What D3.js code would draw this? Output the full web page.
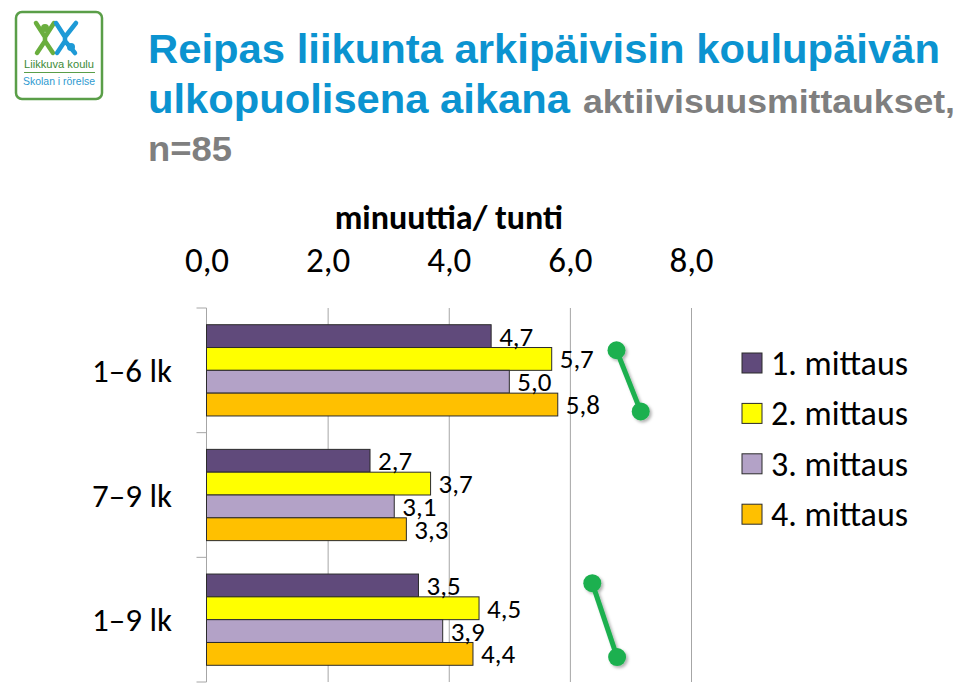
<!DOCTYPE html>
<html>
<head>
<meta charset="utf-8">
<script src="https://cdn.jsdelivr.net/npm/d3@7"></script>
<style>
  html, body { margin: 0; padding: 0; background: #ffffff; }
  svg { display: block; }
</style>
</head>
<body>
<svg id="chart" width="959" height="685"></svg>
<script>
// ---------------- data ----------------
const categories = ["1–6 lk", "7–9 lk", "1–9 lk"];
const seriesNames = ["1. mittaus", "2. mittaus", "3. mittaus", "4. mittaus"];
const mittaus1 = [4.7, 2.7, 3.5];
const mittaus2 = [5.7, 3.7, 4.5];
const mittaus3 = [5.0, 3.1, 3.9];
const mittaus4 = [5.8, 3.3, 4.4];
const xTicks = [0, 2, 4, 6, 8];
const seriesColors = ["#604a7b", "#ffff00", "#b3a2c7", "#ffc000"];
const axisTitle = "minuuttia/ tunti";
const titleLine1 = "Reipas liikunta arkipäivisin koulupäivän";
const titleLine2Blue = "ulkopuolisena aikana";
const titleLine2Gray = "aktiivisuusmittaukset,";
const titleLine3 = "n=85";
// trend annotations (value position along x, fraction of band along y)
const trendCats = ["1–6 lk", "1–9 lk"];
const trendX1 = [6.77, 6.37];
const trendY1 = [0.28, 0.10];
const trendX2 = [7.17, 6.78];
const trendY2 = [0.95, 0.91];

const allSeries = [mittaus1, mittaus2, mittaus3, mittaus4];
const rows = [];
categories.forEach((c, ci) => {
  seriesNames.forEach((s, si) => rows.push({ cat: c, series: s, si, value: allSeries[si][ci] }));
});

const locale = d3.formatLocale({ decimal: ",", thousands: " ", grouping: [3], currency: ["", "€"] });
const fmt = locale.format(".1f");

const svg = d3.select("#chart");
const FONT = "Carlito, Lato, 'Open Sans', sans-serif";

// ---------------- logo ----------------
const logo = svg.append("g");
logo.append("rect").attr("x", 16).attr("y", 12).attr("width", 86).attr("height", 87).attr("rx", 6)
  .attr("fill", "#fff").attr("stroke", "#5a9e48").attr("stroke-width", 2.5);
// green figure
logo.append("path").attr("d", "M36,23 L45,37 L54,23 M45,37 L45,41 M45,41 L37,53 M45,41 L53,53")
  .attr("stroke", "#6aae3e").attr("stroke-width", 4.5).attr("stroke-linecap", "round").attr("fill", "none");
logo.append("circle").attr("cx", 45).attr("cy", 28).attr("r", 4).attr("fill", "#6aae3e");
// blue figure
logo.append("path").attr("d", "M56,23 L65,37 L76,23 M65,37 L65,41 M65,41 L57,53 M65,41 L75,53")
  .attr("stroke", "#1e9ad6").attr("stroke-width", 4.5).attr("stroke-linecap", "round").attr("fill", "none");
logo.append("circle").attr("cx", 71).attr("cy", 47).attr("r", 4).attr("fill", "#1e9ad6");
logo.append("text").attr("x", 59).attr("y", 68).attr("text-anchor", "middle")
  .attr("font-family", "'Liberation Sans', Arial, sans-serif").attr("font-size", 11.5).attr("fill", "#3d8b37")
  .attr("textLength", 70).attr("lengthAdjust", "spacingAndGlyphs")
  .text("Liikkuva koulu");
logo.append("line").attr("x1", 24).attr("x2", 95).attr("y1", 72.5).attr("y2", 72.5)
  .attr("stroke", "#5a9e48").attr("stroke-width", 1.2);
logo.append("text").attr("x", 59).attr("y", 85).attr("text-anchor", "middle")
  .attr("font-family", "'Liberation Sans', Arial, sans-serif").attr("font-size", 11.5).attr("fill", "#2e9ad0")
  .attr("textLength", 72).attr("lengthAdjust", "spacingAndGlyphs")
  .text("Skolan i rörelse");

// ---------------- title ----------------
const TF = "'Liberation Sans', Arial, sans-serif";
svg.append("text").attr("x", 148).attr("y", 63).attr("font-family", TF).attr("font-weight", "bold")
  .attr("font-size", 40).attr("fill", "#0b93d0").attr("textLength", 792).attr("lengthAdjust", "spacingAndGlyphs")
  .text(titleLine1);
svg.append("text").attr("x", 148).attr("y", 113).attr("font-family", TF).attr("font-weight", "bold")
  .attr("font-size", 40).attr("fill", "#0b93d0").attr("textLength", 422).attr("lengthAdjust", "spacingAndGlyphs")
  .text(titleLine2Blue);
svg.append("text").attr("x", 583).attr("y", 113).attr("font-family", TF).attr("font-weight", "bold")
  .attr("font-size", 34).attr("fill", "#7f7f7f").attr("textLength", 372).attr("lengthAdjust", "spacingAndGlyphs")
  .text(titleLine2Gray);
svg.append("text").attr("x", 148).attr("y", 161).attr("font-family", TF).attr("font-weight", "bold")
  .attr("font-size", 35).attr("fill", "#7f7f7f").attr("textLength", 84).attr("lengthAdjust", "spacingAndGlyphs")
  .text(titleLine3);

// ---------------- scales ----------------
const plotTop = 308, plotBottom = 682;
const x = d3.scaleLinear().domain([0, 8]).range([206.5, 691]);
const pad = 0.268;
const y = d3.scaleBand().domain(categories).range([plotTop, plotBottom]).paddingInner(pad).paddingOuter(pad / 2);
const ySub = d3.scaleBand().domain(seriesNames).range([0, y.bandwidth()]).padding(0);
const color = d3.scaleOrdinal().domain(seriesNames).range(seriesColors);

// gridlines
const grid = svg.append("g").attr("transform", `translate(0,${plotTop})`)
  .call(d3.axisBottom(x).tickValues(xTicks.filter(d => d > 0)).tickSize(plotBottom - plotTop).tickFormat(""));
grid.select(".domain").remove();
grid.selectAll("line").attr("stroke", "#a6a6a6").attr("stroke-width", 1);

// category axis
const yAxis = svg.append("g").attr("transform", `translate(${x(0)},0)`);
yAxis.append("line").attr("x1", 0).attr("x2", 0).attr("y1", plotTop).attr("y2", plotBottom)
  .attr("stroke", "#a6a6a6");
const boundaries = categories.map(c => y(c) - y.step() * pad / 2).concat([plotBottom]);
yAxis.selectAll("line.tk").data(boundaries).join("line").attr("class", "tk")
  .attr("x1", -10).attr("x2", 0).attr("y1", d => d).attr("y2", d => d).attr("stroke", "#a6a6a6");

svg.append("g").selectAll("text").data(categories).join("text")
  .attr("x", 172).attr("y", d => y(d) + y.bandwidth() / 2)
  .attr("dy", "0.35em").attr("text-anchor", "end")
  .attr("font-family", FONT).attr("font-size", 33).attr("fill", "#000")
  .text(d => d);

// top value axis labels
const topAxis = svg.append("g").attr("transform", `translate(0,275)`)
  .call(d3.axisTop(x).tickValues(xTicks).tickSize(0).tickPadding(3).tickFormat(fmt));
topAxis.select(".domain").remove();
topAxis.selectAll("text").attr("font-family", FONT).attr("font-size", 35).attr("fill", "#000");

svg.append("text").attr("x", (x(0) + x(8)) / 2).attr("y", 229).attr("text-anchor", "middle")
  .attr("font-family", FONT).attr("font-weight", "bold").attr("font-size", 34).attr("fill", "#000")
  .text(axisTitle);

// bars
svg.append("g").selectAll("rect").data(rows).join("rect")
  .attr("x", x(0))
  .attr("y", d => y(d.cat) + ySub(d.series))
  .attr("width", d => x(d.value) - x(0))
  .attr("height", ySub.bandwidth())
  .attr("fill", d => color(d.series))
  .attr("stroke", "#2b2b2b").attr("stroke-width", 1);

// data labels
svg.append("g").selectAll("text").data(rows).join("text")
  .attr("x", d => x(d.value) + 8)
  .attr("y", d => y(d.cat) + ySub(d.series) + ySub.bandwidth() / 2)
  .attr("dy", "0.35em")
  .attr("font-family", FONT).attr("font-size", 27).attr("fill", "#000")
  .text(d => fmt(d.value));

// legend
const legend = svg.append("g");
seriesNames.forEach((s, i) => {
  const cy = 363 + i * 50.4;
  legend.append("rect").attr("x", 742).attr("y", cy - 10).attr("width", 20).attr("height", 20)
    .attr("fill", color(s)).attr("stroke", "#2b2b2b").attr("stroke-width", 1);
  legend.append("text").attr("x", 771).attr("y", cy).attr("dy", "0.35em")
    .attr("font-family", FONT).attr("font-size", 34).attr("fill", "#000").text(s);
});

// trend annotations
const defs = svg.append("defs");
const f = defs.append("filter").attr("id", "shadow").attr("x", "-50%").attr("y", "-50%").attr("width", "200%").attr("height", "200%");
f.append("feDropShadow").attr("dx", 2).attr("dy", 2).attr("stdDeviation", 1.5).attr("flood-color", "#000").attr("flood-opacity", 0.3);
trendCats.forEach((c, i) => {
  const g = svg.append("g").attr("filter", "url(#shadow)");
  const xa = x(trendX1[i]), ya = y(c) + trendY1[i] * y.bandwidth();
  const xb = x(trendX2[i]), yb = y(c) + trendY2[i] * y.bandwidth();
  g.append("line").attr("x1", xa).attr("y1", ya).attr("x2", xb).attr("y2", yb)
    .attr("stroke", "#1db04f").attr("stroke-width", 5);
  g.append("circle").attr("cx", xa).attr("cy", ya).attr("r", 9).attr("fill", "#1db04f");
  g.append("circle").attr("cx", xb).attr("cy", yb).attr("r", 9).attr("fill", "#1db04f");
});
</script>
</body>
</html>
